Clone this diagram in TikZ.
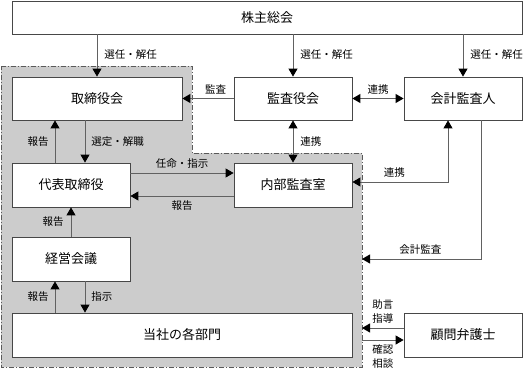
\documentclass[tikz,border=0pt]{standalone}
\usepackage{fontspec}
\setmainfont{Noto Sans CJK JP}
\usetikzlibrary{arrows.meta}

\begin{document}
\begin{tikzpicture}[
  x=1pt,y=-1pt,
  font=\fontsize{13}{15}\selectfont,
  >={Triangle[length=8pt,width=9pt,color=black,fill=black]},
  box/.style={rectangle,draw=black!72,fill=white,line width=0.8pt,
              minimum width=118pt,minimum height=44pt,inner sep=0pt},
  area/.style={draw=black!65,fill=black!20,dash pattern=on 5pt off 2pt on 1pt off 2pt,
               line width=1pt},
  flow/.style={->,draw=black!62,line width=0.9pt},
  dflow/.style={<->,draw=black!62,line width=0.9pt},
  lab/.style={font=\fontsize{10.5}{14}\selectfont,inner sep=0pt,align=center},
]
\useasboundingbox (0,0) rectangle (529,369);

%% ---------------------------------------------------------- company area
\draw[area] (1,66) -- (192,66) -- (192,153) -- (362,153) -- (362,367)
  -- (1,367) -- cycle;
\coordinate (ga) at (362,259);
\coordinate (gb) at (362,328);
\coordinate (gc) at (362,340);

%% ------------------------------------------------------------------ boxes
\node[box,minimum width=510pt,minimum height=33pt] (gm) at (267,17.5) {株主総会};
\node[box,minimum width=170pt,minimum height=43pt] (board) at (97,98.5) {取締役会};
\node[box,minimum height=43pt] (kans) at (293,98.5) {監査役会};
\node[box,minimum height=43pt] (acct) at (463,98.5) {会計監査人};
\node[box] (rep) at (71,185) {代表取締役};
\node[box] (iaud) at (293,185) {内部監査室};
\node[box] (mgmt) at (71,259) {経営会議};
\node[box,minimum width=340pt] (dept) at (182,335) {当社の各部門};
\node[box] (lawyer) at (463,335) {顧問弁護士};

%% ----------------------------------------------------- general meeting
\foreach \n in {board,kans,acct}{
  \draw[flow] (gm.south -| \n) -- node[lab,right=7pt,pos=0.48]{選任・解任} (\n.north);
}

%% ------------------------------------------------------------- auditors
\draw[flow] (kans.west) -- node[lab,above=4pt,pos=0.35]{監査} (board.east);
\draw[dflow] (kans.east) -- node[lab,above=4pt]{連携} (acct.west);
\draw[dflow] (kans) -- node[lab,right=7pt]{連携} (iaud);
\draw[dflow] ([xshift=-15pt]acct.south) |- node[lab,above=4pt,pos=0.78]{連携}
  ([yshift=3pt]iaud.east);
\draw[flow] ([xshift=18pt]acct.south) |- node[lab,above=4pt,pos=0.755]{会計監査} (ga);

%% ---------------------------------------------------------- management
\draw[flow] ([xshift=14pt]rep.north |- board.south) -- node[lab,right=6pt]{選定・解職}
  ([xshift=14pt]rep.north);
\draw[flow] ([xshift=-16pt]rep.north) -- node[lab,left=6pt]{報告}
  ([xshift=-16pt]rep.north |- board.south);
\draw[flow] ([yshift=12pt]rep.east) -- node[lab,above=4pt]{任命・指示}
  ([yshift=12pt]rep.east -| iaud.west);
\draw[flow] ([yshift=-11pt]iaud.west) -- node[lab,below=4pt]{報告}
  ([yshift=-11pt]iaud.west -| rep.east);
\draw[flow] (mgmt) -- node[lab,left=7pt]{報告} (rep);
\draw[flow] ([xshift=-16pt]mgmt.south |- dept.north) -- node[lab,left=6pt]{報告}
  ([xshift=-16pt]mgmt.south);
\draw[flow] ([xshift=14pt]mgmt.south) -- node[lab,right=6pt]{指示}
  ([xshift=14pt]mgmt.south |- dept.north);

%% -------------------------------------------------------------- lawyer
\draw[flow] (lawyer.west |- gb) -- node[lab,above=4pt]{助言\\指導} (gb);
\draw[flow] (gc) -- node[lab,below=4pt]{確認\\相談} (lawyer.west |- gc);

\end{tikzpicture}
\end{document}
